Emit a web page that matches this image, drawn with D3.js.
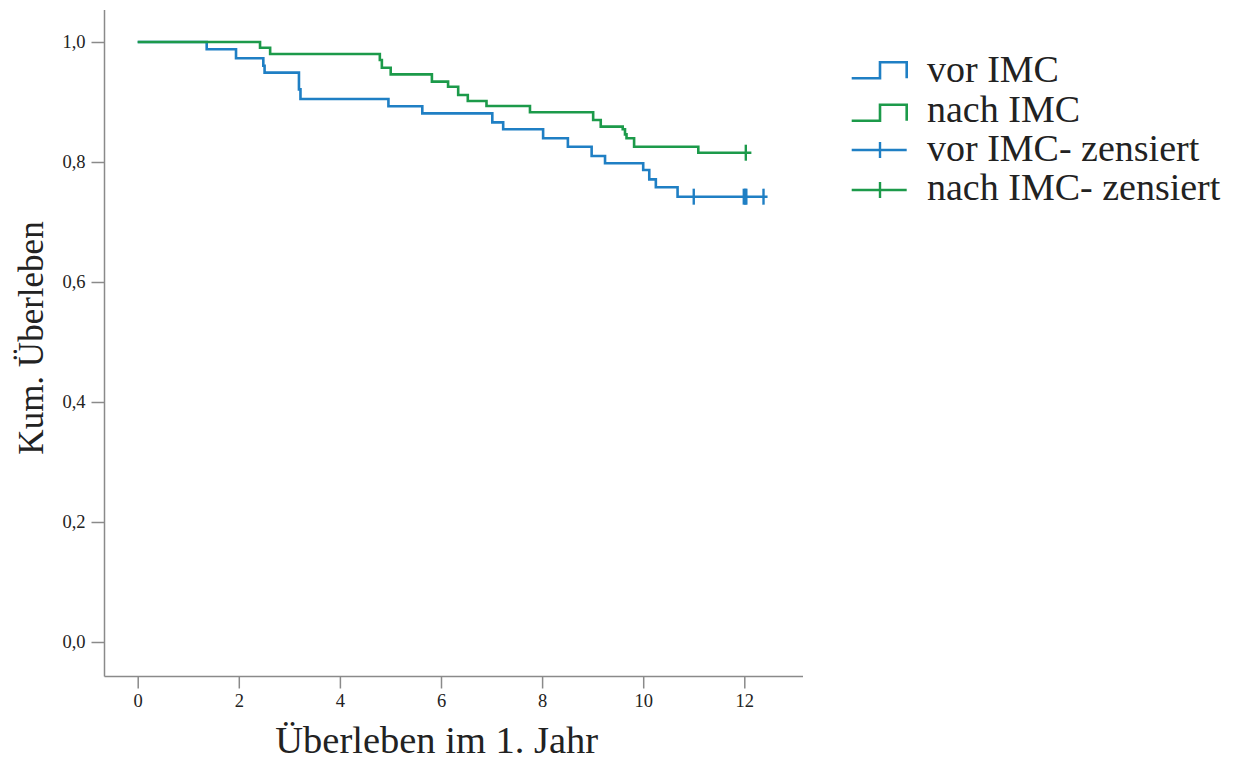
<!DOCTYPE html>
<html>
<head>
<meta charset="utf-8">
<script src="https://cdn.jsdelivr.net/npm/d3@7"></script>
<style>
  html, body { margin: 0; padding: 0; background: #ffffff; }
  svg { display: block; }
  text { font-family: "Liberation Serif", "Times New Roman", serif; fill: #222; }
</style>
</head>
<body>
<svg id="chart" width="1233" height="760"></svg>
<script>
// Kaplan-Meier step data: event times (months) and survival after each event
const vorTimes    = [1.365, 1.945, 2.485, 2.51, 3.19, 3.22, 4.96, 5.63, 7.015, 7.23, 8.02, 8.51, 8.98, 9.245, 10.0, 10.12, 10.25, 10.68];
const vorSurv     = [0.988, 0.973, 0.9605, 0.949, 0.921, 0.905, 0.893, 0.881, 0.866, 0.8545, 0.8395, 0.8255, 0.81, 0.798, 0.7867, 0.771, 0.7578, 0.7422];
const vorCensored = [11.0, 11.99, 12.02, 12.04, 12.38];
const vorEnd      = 12.46;

const nachTimes    = [2.42, 2.62, 4.79, 4.83, 5.005, 5.82, 6.14, 6.34, 6.53, 6.90, 7.76, 9.01, 9.16, 9.595, 9.64, 9.67, 9.82, 11.09];
const nachSurv     = [0.9905, 0.98, 0.97, 0.957, 0.946, 0.934, 0.9255, 0.9117, 0.9017, 0.8933, 0.8828, 0.87, 0.859, 0.8545, 0.846, 0.8395, 0.8255, 0.8155];
const nachCensored = [12.03];
const nachEnd      = 12.14;

const xTicks = [0, 2, 4, 6, 8, 10, 12];
const yTicks = [0, 0.2, 0.4, 0.6, 0.8, 1.0];

const seriesNames = ["vor IMC", "nach IMC", "vor IMC- zensiert", "nach IMC- zensiert"];
const blue = "#1f7fc4";
const green = "#1c9a4a";

const svg = d3.select("#chart");

const x = d3.scaleLinear().domain([0, 12]).range([137.7, 744.3]);
const y = d3.scaleLinear().domain([0, 1]).range([642, 42]);

const axisX0 = 104.5, axisY0 = 676.5;
const axisColor = "#8a8a8a";

// frame lines (left and bottom)
svg.append("line").attr("x1", axisX0).attr("x2", axisX0).attr("y1", 10).attr("y2", axisY0)
  .attr("stroke", axisColor).attr("stroke-width", 1.5);
svg.append("line").attr("x1", axisX0).attr("x2", 803).attr("y1", axisY0).attr("y2", axisY0)
  .attr("stroke", axisColor).attr("stroke-width", 1.5);

const fmt = d => d3.format(".1f")(d).replace(".", ",");

const yAxis = svg.append("g").attr("transform", `translate(${axisX0},0)`)
  .call(d3.axisLeft(y).tickValues(yTicks).tickFormat(fmt).tickSize(13).tickPadding(6));
const xAxis = svg.append("g").attr("transform", `translate(0,${axisY0})`)
  .call(d3.axisBottom(x).tickValues(xTicks).tickFormat(d3.format("d")).tickSize(12).tickPadding(5));

[yAxis, xAxis].forEach(g => {
  g.select(".domain").remove();
  g.selectAll(".tick line").attr("stroke", axisColor).attr("stroke-width", 1.5);
  g.selectAll(".tick text").attr("font-family", "Liberation Serif, serif")
    .attr("font-size", 18.5).attr("fill", "#333");
});

// survival curves
function stepPoints(times, surv, end) {
  const pts = [[0, 1]];
  times.forEach((t, i) => pts.push([t, surv[i]]));
  pts.push([end, surv[surv.length - 1]]);
  return pts;
}
const line = d3.line().x(d => x(d[0])).y(d => y(d[1])).curve(d3.curveStepAfter);

const curves = [
  { times: vorTimes, surv: vorSurv, cens: vorCensored, end: vorEnd, color: blue },
  { times: nachTimes, surv: nachSurv, cens: nachCensored, end: nachEnd, color: green }
];

curves.forEach(c => {
  svg.append("path").datum(stepPoints(c.times, c.surv, c.end))
    .attr("d", line).attr("fill", "none").attr("stroke", c.color)
    .attr("stroke-width", 2.6).attr("stroke-linejoin", "miter");
  const last = c.surv[c.surv.length - 1];
  svg.selectAll(null).data(c.cens).enter().append("line")
    .attr("x1", d => x(d)).attr("x2", d => x(d))
    .attr("y1", y(last) - 8).attr("y2", y(last) + 8)
    .attr("stroke", c.color).attr("stroke-width", 2.4);
});

// axis titles
svg.append("text").attr("x", 436.7).attr("y", 753).attr("text-anchor", "middle")
  .attr("font-size", 38.5).text("Überleben im 1. Jahr");
svg.append("text").attr("transform", "translate(43,338) rotate(-90)").attr("text-anchor", "middle")
  .attr("font-size", 35).text("Kum. Überleben");

// legend
const legend = svg.append("g");
const legY = [78.3, 120.7, 150, 190];
const legBase = [81.7, 121.7, 160.7, 200];
const lx0 = 851.7, lxm = 880, lx1 = 906.7;
[blue, green].forEach((col, i) => {
  const b = legY[i];
  legend.append("path")
    .attr("d", `M${lx0},${b}H${lxm}V${b - 16}H${lx1}V${b}`)
    .attr("fill", "none").attr("stroke", col).attr("stroke-width", 2.6);
});
[blue, green].forEach((col, i) => {
  const b = legY[i + 2];
  legend.append("line").attr("x1", lx0).attr("x2", lx1).attr("y1", b).attr("y2", b)
    .attr("stroke", col).attr("stroke-width", 2.6);
  legend.append("line").attr("x1", lxm).attr("x2", lxm).attr("y1", b - 8).attr("y2", b + 8)
    .attr("stroke", col).attr("stroke-width", 2.4);
});
legend.selectAll("text.leg").data(seriesNames).enter().append("text")
  .attr("class", "leg").attr("x", 927).attr("y", (d, i) => legBase[i])
  .attr("font-size", 38).text(d => d);
</script>
</body>
</html>
